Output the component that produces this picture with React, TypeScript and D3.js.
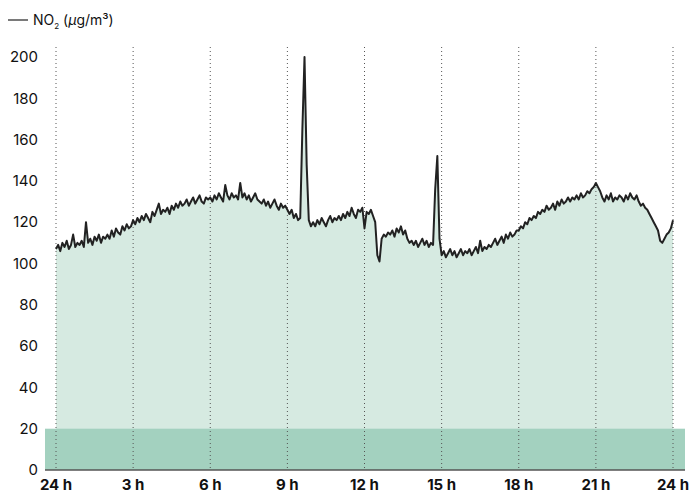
import React, { useEffect, useRef } from 'react';
import * as d3 from 'd3';

const width = 691;
const height = 494;
const margin = { top: 47, left: 56, right: 18, bottom: 24 };

// NO2 readings every 5 minutes, one row per hour (0h..23h), plus the 24h value
const no2 = [
  107, 109, 106, 110, 108, 111, 107, 109, 114, 108, 110, 109,
  111, 108, 120, 110, 112, 109, 113, 111, 114, 110, 113, 112,
  114, 112, 116, 113, 117, 115, 114, 118, 116, 119, 117, 118,
  121, 119, 122, 120, 123, 121, 124, 122, 120, 125, 123, 126,
  129, 124, 126, 125, 127, 124, 128, 126, 129, 127, 130, 128,
  129, 131, 128, 130, 132, 129, 131, 133, 130, 129, 132, 131,
  132, 130, 133, 131, 134, 132, 130, 138, 133, 131, 134, 132,
  133, 131, 139, 132, 134, 131, 133, 130, 132, 134, 131, 130,
  129, 131, 128, 130, 127, 129, 131, 128, 126, 129, 127, 128,
  126, 124, 126, 122, 124, 121, 122, 165, 200, 148, 121, 118,
  120, 118, 121, 119, 122, 120, 118, 121, 123, 120, 122, 121,
  123, 121, 124, 122, 125, 123, 127, 124, 122, 126, 125, 127,
  117, 125, 124, 126, 123, 120, 104, 101, 112, 114, 113, 115,
  114, 116, 113, 117, 115, 118, 114, 116, 112, 110, 111, 109,
  111, 108, 110, 112, 109, 111, 108, 110, 109, 136, 152, 112,
  104, 106, 103, 105, 107, 104, 106, 103, 105, 107, 104, 106,
  105, 107, 104, 106, 108, 105, 111, 106, 108, 107, 109, 108,
  110, 112, 109, 111, 113, 110, 114, 112, 115, 113, 114, 116,
  116, 118, 117, 120, 119, 122, 121, 123, 122, 125, 124, 126,
  125, 128, 126, 127, 129, 126, 130, 128, 131, 129, 130, 132,
  130, 132, 131, 133, 131, 134, 132, 133, 135, 134, 136, 137,
  139, 137, 135, 132, 130, 133, 131, 134, 130, 132, 131, 133,
  132, 130, 133, 131, 134, 132, 131, 133, 130, 128, 129, 127,
  126, 124, 122, 120, 118, 116, 111, 110, 112, 114, 115, 117,
  121
];
const stepHours = 5 / 60;

const xTicks = [0, 3, 6, 9, 12, 15, 18, 21, 24];
const xTickLabels = ['24 h', '3 h', '6 h', '9 h', '12 h', '15 h', '18 h', '21 h', '24 h'];
const yTicks = [0, 20, 40, 60, 80, 100, 120, 140, 160, 180, 200];
const limitBand = [0, 20];

const areaColor = '#d6eae1';
const bandColor = '#a3d1bf';
const fontFamily = 'Inter, "Noto Sans", sans-serif';

export default function App() {
  const ref = useRef<SVGSVGElement>(null);

  useEffect(() => {
    const svg = d3.select(ref.current);
    svg.selectAll('*').remove();

    const x = d3.scaleLinear([0, 24], [margin.left, width - margin.right]);
    const y = d3.scaleLinear([0, 200], [height - margin.bottom, 57]);
    const data = no2.map((v, i) => ({ t: i * stepHours, v }));

    // area under the line
    svg.append('path')
      .datum(data)
      .attr('fill', areaColor)
      .attr('d', d3.area<any>().x(d => x(d.t)).y0(y(0)).y1(d => y(d.v)));

    // limit band 0-20
    svg.append('rect')
      .attr('x', 45)
      .attr('width', width - 6 - 45)
      .attr('y', y(limitBand[1]))
      .attr('height', y(limitBand[0]) - y(limitBand[1]))
      .attr('fill', bandColor);

    // dotted vertical gridlines
    svg.append('g')
      .selectAll('line')
      .data(xTicks)
      .join('line')
      .attr('x1', d => x(d)).attr('x2', d => x(d))
      .attr('y1', margin.top).attr('y2', y(0))
      .attr('stroke', '#555')
      .attr('stroke-width', 1)
      .attr('stroke-dasharray', '1,3');

    // the series
    svg.append('path')
      .datum(data)
      .attr('fill', 'none')
      .attr('stroke', '#222')
      .attr('stroke-width', 2)
      .attr('stroke-linejoin', 'round')
      .attr('d', d3.line<any>().x(d => x(d.t)).y(d => y(d.v)));

    // baseline
    svg.append('line')
      .attr('x1', 45).attr('x2', width - 6)
      .attr('y1', y(0)).attr('y2', y(0))
      .attr('stroke', '#555')
      .attr('stroke-width', 1.5);

    // y labels
    svg.append('g')
      .selectAll('text')
      .data(yTicks)
      .join('text')
      .attr('x', 38)
      .attr('y', d => y(d))
      .attr('dy', '0.35em')
      .attr('text-anchor', 'end')
      .attr('font-family', fontFamily)
      .attr('font-size', 15)
      .attr('fill', '#111')
      .text(d => d);

    // x labels
    svg.append('g')
      .selectAll('text')
      .data(xTicks)
      .join('text')
      .attr('x', d => x(d))
      .attr('y', 490)
      .attr('text-anchor', 'middle')
      .attr('font-family', fontFamily)
      .attr('font-size', 15)
      .attr('font-weight', 700)
      .attr('fill', '#111')
      .text((d, i) => xTickLabels[i]);

    // legend
    svg.append('line')
      .attr('x1', 8).attr('x2', 28)
      .attr('y1', 20).attr('y2', 20)
      .attr('stroke', '#222')
      .attr('stroke-width', 1.2);
    const legend = svg.append('text')
      .attr('x', 33)
      .attr('y', 20)
      .attr('dy', '0.35em')
      .attr('font-family', fontFamily)
      .attr('font-size', 14)
      .attr('fill', '#111');
    legend.append('tspan').text('NO');
    legend.append('tspan').attr('font-size', 8).attr('dy', 4).text('2');
    legend.append('tspan').attr('dy', -4).text(' (');
    legend.append('tspan').attr('font-style', 'italic').text('µ');
    legend.append('tspan').text('g/m³)');
  }, []);

  return (
    <div style={{ position: 'absolute', left: 0, top: 0 }}>
      <svg ref={ref} width={width} height={height} viewBox={`0 0 ${width} ${height}`} />
    </div>
  );
}
